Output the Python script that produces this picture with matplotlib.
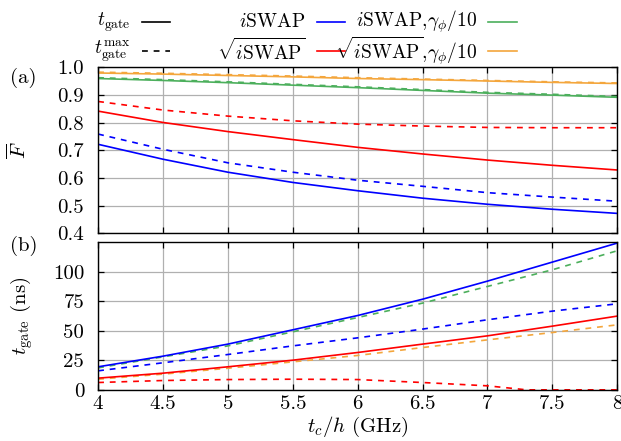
import matplotlib
matplotlib.use("Agg")
import matplotlib.pyplot as plt
from matplotlib.lines import Line2D

plt.rcParams['font.family'] = 'serif'
plt.rcParams['font.serif'] = ['cmr10']
plt.rcParams['mathtext.fontset'] = 'cm'
plt.rcParams['axes.formatter.use_mathtext'] = True
plt.rcParams['font.size'] = 15

# coupler frequency t_c/h (GHz)
tc = [4.0, 4.5, 5.0, 5.5, 6.0, 6.5, 7.0, 7.5, 8.0]

# (a) average gate fidelity
F_iswap = [0.722, 0.668, 0.621, 0.584, 0.554, 0.527, 0.505, 0.487, 0.472]
F_iswap_max = [0.759, 0.704, 0.655, 0.621, 0.592, 0.570, 0.547, 0.531, 0.516]
F_sqrt = [0.842, 0.801, 0.768, 0.739, 0.711, 0.687, 0.665, 0.646, 0.629]
F_sqrt_max = [0.877, 0.846, 0.824, 0.807, 0.795, 0.788, 0.783, 0.782, 0.782]
F_iswap_g = [0.960, 0.953, 0.945, 0.936, 0.927, 0.917, 0.907, 0.900, 0.892]
F_iswap_g_max = [0.963, 0.956, 0.948, 0.939, 0.930, 0.920, 0.910, 0.903, 0.895]
F_sqrt_g = [0.980, 0.976, 0.971, 0.966, 0.960, 0.956, 0.951, 0.946, 0.942]
F_sqrt_g_max = [0.983, 0.979, 0.974, 0.969, 0.963, 0.958, 0.953, 0.948, 0.944]

# (b) gate times (ns)
t_iswap = [19.5, 28.5, 38.7, 50.8, 62.9, 76.7, 92.0, 108.1, 124.2]
t_iswap_max = [16.1, 22.9, 29.9, 37.2, 44.0, 51.4, 59.3, 66.6, 72.8]
t_iswap_g_max = [18.6, 27.9, 37.2, 49.1, 61.2, 73.4, 87.5, 101.6, 117.7]
t_sqrt = [9.9, 14.1, 19.5, 25.1, 31.6, 38.7, 45.7, 53.9, 62.4]
t_sqrt_g_max = [9.0, 13.3, 18.3, 23.7, 29.1, 35.8, 42.3, 48.5, 55.0]
# sqrt(iSWAP) max gate time drops to zero near 7.3 GHz
tc_sqrt_max = [4.0, 4.5, 5.0, 5.5, 6.0, 6.5, 7.0, 7.25, 7.3, 7.5, 8.0]
t_sqrt_max = [6.2, 7.9, 8.7, 9.0, 8.7, 6.2, 3.4, 0.6, 0.0, 0.0, 0.0]

blue = '#0000ff'
red = '#ff0000'
green = '#4caf5c'
orange = '#f4a63c'
dash = (3.5, 3.5)

fig = plt.figure(figsize=(6.21, 4.41), dpi=100)
ax1 = fig.add_axes([0.158, 0.471, 0.836, 0.376])
ax2 = fig.add_axes([0.158, 0.116, 0.836, 0.335])

lw = 1.2
ax1.plot(tc, F_sqrt_g, color=orange, lw=lw)
ax1.plot(tc, F_sqrt_g_max, color=orange, lw=lw, dashes=dash)
ax1.plot(tc, F_iswap_g, color=green, lw=lw)
ax1.plot(tc, F_iswap_g_max, color=green, lw=lw, dashes=dash)
ax1.plot(tc, F_sqrt, color=red, lw=lw)
ax1.plot(tc, F_sqrt_max, color=red, lw=lw, dashes=dash)
ax1.plot(tc, F_iswap, color=blue, lw=lw)
ax1.plot(tc, F_iswap_max, color=blue, lw=lw, dashes=dash)

ax2.plot(tc, t_iswap_g_max, color=green, lw=lw, dashes=dash)
ax2.plot(tc, t_sqrt_g_max, color=orange, lw=lw, dashes=dash)
ax2.plot(tc, t_iswap, color=blue, lw=lw)
ax2.plot(tc, t_iswap_max, color=blue, lw=lw, dashes=dash)
ax2.plot(tc, t_sqrt, color=red, lw=lw)
ax2.plot(tc_sqrt_max, t_sqrt_max, color=red, lw=lw, dashes=dash, clip_on=False)

xt = [4, 4.5, 5, 5.5, 6, 6.5, 7, 7.5, 8]
for ax in (ax1, ax2):
    ax.set_xlim(4, 8)
    ax.set_xticks(xt)
    ax.grid(True, color='#b0b0b0', lw=0.9)
    ax.set_axisbelow(True)
    ax.tick_params(direction='in', top=True, right=True, length=4, width=0.9)
    ax.tick_params(axis='y', pad=10)
    ax.tick_params(axis='x', pad=4)
    for s in ax.spines.values():
        s.set_linewidth(1.0)

ax1.set_ylim(0.4, 1.0)
yt1 = [0.4, 0.5, 0.6, 0.7, 0.8, 0.9, 1.0]
ax1.set_yticks(yt1)
ax1.set_yticklabels(['%.1f' % v for v in yt1])
ax1.set_xticklabels([])
ax1.set_ylabel(r'$\overline{F}$')

ax2.set_ylim(0, 125)
yt2 = [0, 25, 50, 75, 100]
ax2.set_yticks(yt2)
ax2.set_yticklabels([str(v) for v in yt2])
ax2.set_xticklabels(['%g' % v for v in xt])
ax2.set_ylabel(r'$t_{\mathrm{gate}}$ (ns)')
ax2.set_xlabel(r'$t_c/h$ (GHz)', labelpad=1)
ax1.yaxis.set_label_coords(-0.131, 0.5)
ax2.yaxis.set_label_coords(-0.121, 0.5)

fig.text(0.016, 0.823, '(a)', va='center')
fig.text(0.016, 0.442, '(b)', va='center')

# key, gnuplot style: label then sample
key_labels = [r'$t_{\mathrm{gate}}$', r'$t_{\mathrm{gate}}^{\mathrm{max}}$',
              r'$i\mathrm{SWAP}$', r'$\sqrt{i\mathrm{SWAP}}$',
              r'$i\mathrm{SWAP},\!\gamma_\phi/10$', r'$\sqrt{i\mathrm{SWAP}},\!\gamma_\phi/10$']
key_colors = ['black', 'black', blue, red, green, orange]
key_dashed = [False, True, False, False, False, False]
col_x = [0.210, 0.492, 0.768]
row_y = [0.950, 0.884]
for i, lab in enumerate(key_labels):
    x = col_x[i // 2]
    y = row_y[i % 2]
    fig.text(x, y, lab, ha='right', va='center', fontsize=14)
    ln = Line2D([x + 0.018, x + 0.064], [y, y], transform=fig.transFigure,
                color=key_colors[i], lw=lw)
    if key_dashed[i]:
        ln.set_dashes(dash)
    fig.add_artist(ln)

fig.savefig('out.png', dpi=100)
